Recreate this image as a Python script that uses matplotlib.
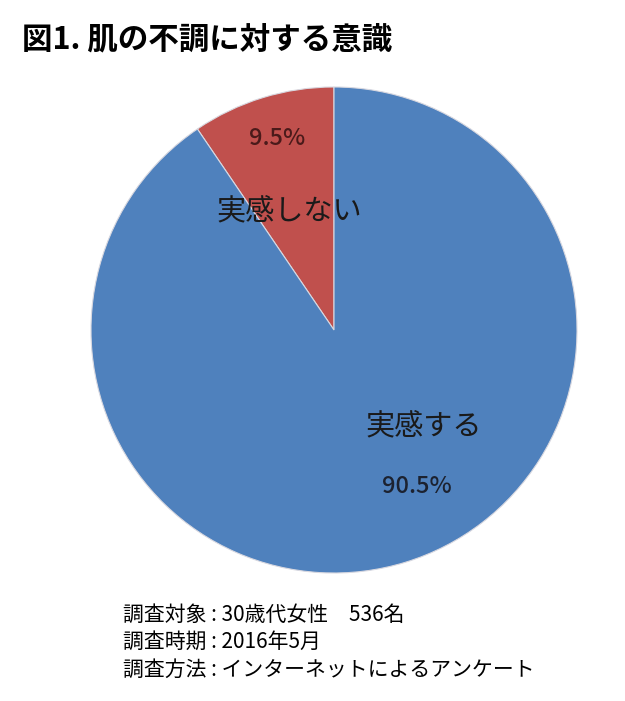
import matplotlib.pyplot as plt

plt.rcParams['font.family'] = ['Noto Sans CJK JP', 'DejaVu Sans']

# data
labels = ['実感しない', '実感する']
shares = [9.5, 90.5]
pct_labels = ['9.5%', '90.5%']
colors = ['#C0504D', '#4F81BD']

title = '図1. 肌の不調に対する意識'
notes = ['調査対象 : 30歳代女性　536名',
         '調査時期 : 2016年5月',
         '調査方法 : インターネットによるアンケート']

fig = plt.figure(figsize=(6.25, 7.01), dpi=100)
ax = fig.add_axes([0.1456, 0.1826, 0.7776, 0.6933])
ax.pie(shares, colors=colors, startangle=90, counterclock=True,
       wedgeprops=dict(edgecolor='#d8d8e0', linewidth=0.8))
ax.set_xlim(-1, 1)
ax.set_ylim(-1, 1)
ax.set_aspect('equal')
ax.axis('off')

# slice labels (name + percentage)
name_pos = [(-0.185, 0.486), (0.37, -0.40)]
pct_pos = [(-0.235, 0.786), (0.342, -0.642)]
pct_colors = ['#4a1a1a', '#1c2230']
for i in range(len(labels)):
    ax.text(*name_pos[i], labels[i], ha='center', va='center',
            fontsize=21, color='#1a1a1a')
    ax.text(*pct_pos[i], pct_labels[i], ha='center', va='center',
            fontsize=17, fontweight='medium', color=pct_colors[i])

fig.text(0.035, 0.943, title, ha='left', va='center',
         fontsize=22, fontweight='bold', color='black')

for k, line in enumerate(notes):
    fig.text(0.197, 0.123 - k * 0.039, line, ha='left', va='center',
             fontsize=15, color='black')

fig.savefig('out.png', dpi=100, facecolor='white')
